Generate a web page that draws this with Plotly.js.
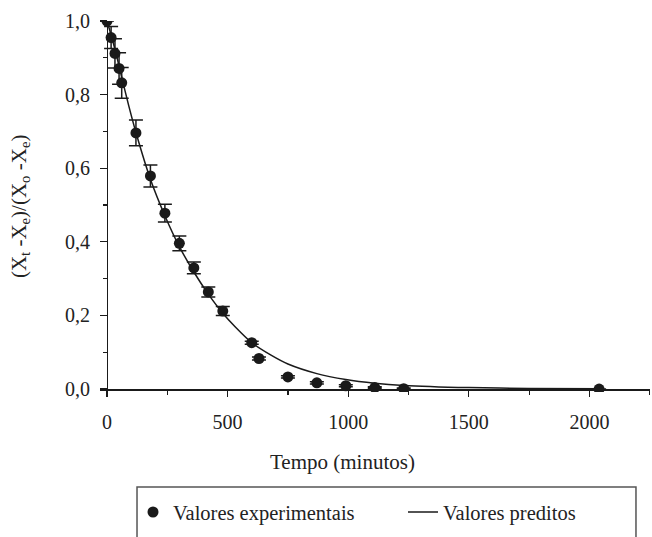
<!DOCTYPE html>
<html>
<head>
<meta charset="utf-8">
<script src="https://cdn.plot.ly/plotly-3.0.1.min.js"></script>
<style>html,body{margin:0;padding:0;background:#fff;}</style>
</head>
<body>
<div id="chart" style="width:652px;height:537px;"></div>
<script>
// Experimental values
var tExp = [0, 17, 33, 50, 61, 120, 180, 240, 300, 360, 420, 480, 600, 630, 750, 870, 990, 1110, 1230, 2040];
var yExp = [1.0, 0.955, 0.912, 0.871, 0.832, 0.696, 0.579, 0.478, 0.396, 0.329, 0.264, 0.212, 0.126, 0.083, 0.033, 0.017, 0.009, 0.004, 0.001, 0.0];
var errExp = [0, 0.03, 0.04, 0.043, 0.042, 0.035, 0.030, 0.024, 0.020, 0.016, 0.0136, 0.012, 0.004, 0.004, 0.003, 0.003, 0.003, 0.002, 0.002, 0];

// Predicted values
var tPred = [0, 20, 40, 60, 90, 120, 180, 240, 300, 360, 420, 480, 530, 600, 680, 750, 870, 990, 1110, 1230, 1500, 1750, 2050];
var yPred = [1.0, 0.955, 0.905, 0.85, 0.77, 0.697, 0.570, 0.471, 0.387, 0.318, 0.258, 0.206, 0.170, 0.126, 0.092, 0.068, 0.042, 0.026, 0.016, 0.010, 0.004, 0.0017, 0.0006];

var seriesNames = ["Valores experimentais", "Valores preditos"];
var xTitle = "Tempo (minutos)";
var yTitle = "(X<sub>t</sub> -X<sub>e</sub>)/(X<sub>o</sub> -X<sub>e</sub>)";

var FONT = "Liberation Serif";
var xRange = [-29, 2251];
var yRange = [-0.008, 1.0];

var traces = [
  {
    x: tExp, y: yExp, type: 'scatter', mode: 'markers', name: seriesNames[0], legend: 'legend',
    marker: {color: '#1a1a1a', size: 11},
    error_y: {type: 'data', array: errExp, visible: true, color: '#1a1a1a', thickness: 1.5, width: 7}
  },
  {
    x: tPred, y: yPred, type: 'scatter', mode: 'lines', name: seriesNames[1], legend: 'legend2',
    line: {color: '#1a1a1a', width: 1.5, shape: 'spline', smoothing: 0.6}
  }
];

var legFont = {family: FONT, size: 20.5, color: '#222'};
var layout = {
  width: 652, height: 537,
  margin: {l: 100, r: 2, t: 21, b: 145, autoexpand: false},
  paper_bgcolor: '#fff', plot_bgcolor: '#fff',
  separators: ',.',
  font: {family: FONT, color: '#222', size: 20},
  showlegend: true,
  legend: {
    orientation: 'h', x: (133 - 100) / 550, xanchor: 'left', y: -0.27, yanchor: 'top',
    bgcolor: 'rgba(0,0,0,0)', borderwidth: 0, font: legFont
  },
  legend2: {
    orientation: 'h', x: (403 - 100) / 550, xanchor: 'left', y: -0.27, yanchor: 'top',
    bgcolor: 'rgba(0,0,0,0)', borderwidth: 0, font: legFont
  },
  xaxis: {
    range: xRange, anchor: 'free', position: 0.008 / 1.008,
    showgrid: false, zeroline: false,
    showline: true, linecolor: '#1a1a1a', linewidth: 1.5,
    ticks: 'outside', ticklen: 6, tickwidth: 1.2, tickcolor: '#1a1a1a',
    tick0: 0, dtick: 500, ticklabelstandoff: 8,
    tickfont: {family: FONT, size: 20, color: '#222'},
    minor: {dtick: 250, tick0: 0, ticks: 'outside', ticklen: 4, tickwidth: 1.2, tickcolor: '#1a1a1a', showgrid: false}
  },
  yaxis: {
    range: yRange, anchor: 'free', position: 29 / 2280,
    showgrid: false, zeroline: false,
    showline: true, linecolor: '#1a1a1a', linewidth: 1.5,
    ticks: 'outside', ticklen: 7, tickwidth: 1.2, tickcolor: '#1a1a1a',
    tick0: 0, dtick: 0.2, tickformat: '.1f', ticklabelstandoff: 6,
    tickfont: {family: FONT, size: 20, color: '#222'},
    minor: {dtick: 0.1, tick0: 0, ticks: 'outside', ticklen: 4, tickwidth: 1.2, tickcolor: '#1a1a1a', showgrid: false}
  },
  annotations: [
    {text: xTitle, xref: 'paper', yref: 'paper', x: 0.4418, y: -0.1887, xanchor: 'center', yanchor: 'middle',
     showarrow: false, font: {family: FONT, size: 21, color: '#222'}},
    {text: yTitle, xref: 'paper', yref: 'paper', x: -0.1455, y: 0.501, xanchor: 'center', yanchor: 'middle',
     textangle: -90, showarrow: false, font: {family: FONT, size: 21, color: '#222'}}
  ],
  shapes: [
    {type: 'rect', xref: 'paper', yref: 'paper', x0: 0.0673, x1: 0.9745, y0: -0.256, y1: -0.5,
     line: {color: '#555', width: 1.5}, fillcolor: 'rgba(0,0,0,0)'}
  ]
};

Plotly.newPlot('chart', traces, layout, {displayModeBar: false, staticPlot: true});
</script>
</body>
</html>
